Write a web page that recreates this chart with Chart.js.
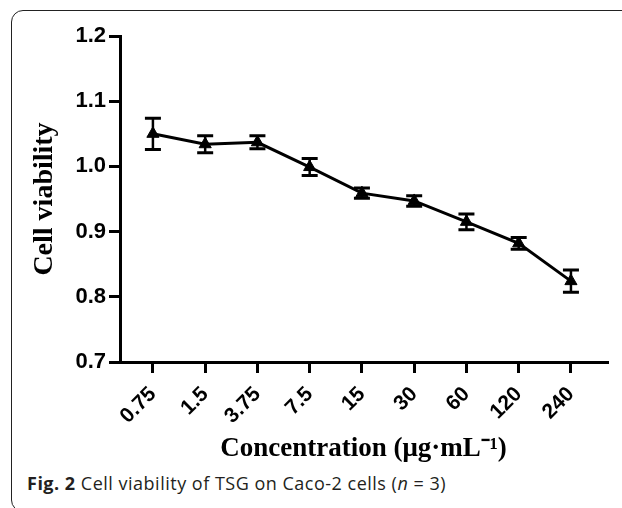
<!DOCTYPE html>
<html lang="en">

<head>
    <meta charset="UTF-8">
    <title>Cell viability of TSG on Caco-2 cells</title>
    <script src="https://cdn.jsdelivr.net/npm/chart.js"></script>
    <style>
        body {
            margin: 0;
            background-color: #ffffff;
            width: 622px;
            height: 508px;
            overflow: hidden;
            position: relative;
        }

        .frame {
            position: absolute;
            left: 11px;
            top: 10px;
            width: 660px;
            height: 502px;
            box-sizing: border-box;
            border: 1.5px solid #222;
            border-radius: 12px;
        }

        .chart-box {
            position: absolute;
            left: 0;
            top: 0;
            width: 622px;
            height: 470px;
        }

        .caption {
            position: absolute;
            left: 27px;
            top: 471px;
            font-family: "Open Sans", sans-serif;
            font-size: 18px;
            letter-spacing: 0.5px;
            color: #231f20;
            white-space: nowrap;
        }
    </style>
</head>

<body>

    <div class="frame"></div>
    <div class="chart-box">
        <canvas id="viabilityChart" width="622" height="470"></canvas>
    </div>
    <div class="caption"><b>Fig. 2</b> Cell viability of TSG on Caco-2 cells (<i>n</i> = 3)</div>

    <script>
        const concentrations = ['0.75', '1.5', '3.75', '7.5', '15', '30', '60', '120', '240'];
        const viability = [1.050, 1.034, 1.037, 0.999, 0.959, 0.947, 0.915, 0.882, 0.824];
        const sem = [0.024, 0.013, 0.010, 0.013, 0.008, 0.008, 0.012, 0.009, 0.017];
        const yTicks = [0.7, 0.8, 0.9, 1.0, 1.1, 1.2];

        // error bars drawn from the chart's own scales
        const errorBars = {
            id: 'errorBars',
            beforeDatasetsDraw(chart) {
                const { ctx, scales: { x, y } } = chart;
                ctx.save();
                ctx.strokeStyle = '#000';
                viability.forEach((v, i) => {
                    const px = x.getPixelForValue(i);
                    const top = y.getPixelForValue(v + sem[i]);
                    const bot = y.getPixelForValue(v - sem[i]);
                    ctx.lineWidth = 2.5;
                    ctx.beginPath();
                    ctx.moveTo(px, top);
                    ctx.lineTo(px, bot);
                    ctx.stroke();
                    ctx.lineWidth = 3;
                    ctx.beginPath();
                    ctx.moveTo(px - 8, top);
                    ctx.lineTo(px + 8, top);
                    ctx.moveTo(px - 8, bot);
                    ctx.lineTo(px + 8, bot);
                    ctx.stroke();
                });
                ctx.restore();
            }
        };

        const ctx = document.getElementById('viabilityChart').getContext('2d');
        new Chart(ctx, {
            type: 'line',
            data: {
                datasets: [{
                    data: viability.map((v, i) => ({ x: i, y: v })),
                    borderColor: '#000',
                    backgroundColor: '#000',
                    borderWidth: 3,
                    pointStyle: 'triangle',
                    pointRadius: 7,
                    pointBorderWidth: 1,
                    tension: 0
                }]
            },
            options: {
                responsive: false,
                devicePixelRatio: 1,
                animation: false,
                layout: {
                    padding: { top: 36, right: 15, left: 0, bottom: 0 }
                },
                plugins: {
                    legend: { display: false },
                    tooltip: { enabled: false }
                },
                scales: {
                    x: {
                        type: 'linear',
                        min: -0.63,
                        max: 8.69,
                        afterBuildTicks: (scale) => {
                            scale.ticks = concentrations.map((c, i) => ({ value: i }));
                        },
                        afterFit: (scale) => { scale.height = 108; },
                        border: { display: true, width: 3, color: '#000' },
                        grid: {
                            drawOnChartArea: false,
                            drawTicks: true,
                            tickLength: 11,
                            lineWidth: 3,
                            color: '#000'
                        },
                        ticks: {
                            autoSkip: false,
                            minRotation: 45,
                            maxRotation: 45,
                            padding: 9,
                            color: '#000',
                            font: { family: 'Arial, "Liberation Sans"', size: 21, weight: 'bold' },
                            callback: (value) => concentrations[value]
                        },
                        title: {
                            display: true,
                            text: 'Concentration (μg·mL⁻¹)',
                            color: '#000',
                            font: { family: '"Times New Roman", "Liberation Serif"', size: 27, weight: 'bold' },
                            padding: { top: 0, bottom: 5 }
                        }
                    },
                    y: {
                        min: 0.7,
                        max: 1.2,
                        afterBuildTicks: (scale) => {
                            scale.ticks = yTicks.map((v) => ({ value: v }));
                        },
                        afterFit: (scale) => { scale.width = 120; },
                        border: { display: true, width: 3, color: '#000' },
                        grid: {
                            drawOnChartArea: false,
                            drawTicks: true,
                            tickLength: 11,
                            lineWidth: 3,
                            color: '#000'
                        },
                        ticks: {
                            padding: 3,
                            color: '#000',
                            font: { family: 'Arial, "Liberation Sans"', size: 22, weight: 'bold' },
                            callback: (value) => value.toFixed(1)
                        },
                        title: {
                            display: true,
                            text: 'Cell viability',
                            color: '#000',
                            font: { family: '"Times New Roman", "Liberation Serif"', size: 28, weight: 'bold' },
                            padding: { top: 28, bottom: 0 }
                        }
                    }
                }
            },
            plugins: [errorBars]
        });
    </script>

</body>

</html>
